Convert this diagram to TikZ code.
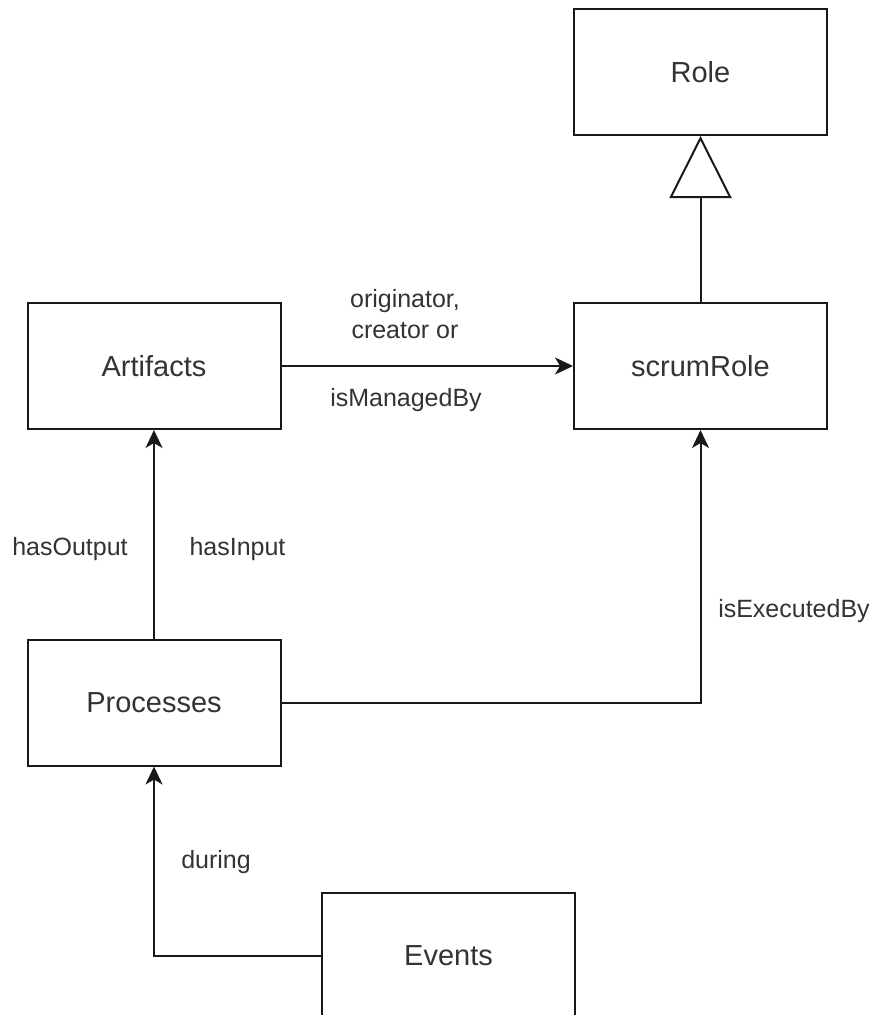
\documentclass[tikz,border=0pt]{standalone}
\usepackage{fontspec}
\setmainfont{Liberation Sans}
\usetikzlibrary{arrows.meta}
\begin{document}
\begin{tikzpicture}[x=1pt,y=-1pt,
  box/.style={draw=black!90, line width=2pt, minimum width=253pt, minimum height=126pt,
    inner sep=0pt, font=\fontsize{29}{35}\selectfont, text=black!80},
  lbl/.style={font=\fontsize{25}{31}\selectfont, text=black!80, align=center,
    inner sep=0pt, anchor=base},
  link/.style={line width=2pt, draw=black!90, -{Stealth[length=18pt,width=17pt,inset=5pt]}},
  gen/.style={line width=2pt, draw=black!90, -{Triangle[open,length=62pt,width=62pt]}}]
  \useasboundingbox (0,0) rectangle (872,1015);
  \clip (0,0) rectangle (872,1015);

  % classes
  \node[box] (role)  at (700.5,72)    {Role};
  \node[box] (scrum) at (700.5,366)   {scrumRole};
  \node[box] (art)   at (154,366)     {Artifacts};
  \node[box] (proc)  at (154,702.5)   {Processes};
  \node[box] (ev)    at (448.5,955.5) {Events};

  % generalisation
  \draw[gen] (scrum.north) -- (role.south);

  % associations
  \draw[link] (art.east) -- (scrum.west);
  \draw[link] (proc.north) -- (art.south);
  \draw[link] (proc.east) -| (scrum.south);
  \draw[link] (ev.west) -| (proc.south);

  % association labels (base anchor sits on the last line)
  \node[lbl] (lorig) at (405,338) {originator,\\creator or};
  \node[lbl] (lman)  at (406,406) {isManagedBy};
  \node[lbl] (lout)  at (70,555)  {hasOutput};
  \node[lbl] (lin)   at (237.5,555) {hasInput};
  \node[lbl] (lexec) at (794,617) {isExecutedBy};
  \node[lbl] (ldur)  at (216,868) {during};
\end{tikzpicture}
\end{document}
